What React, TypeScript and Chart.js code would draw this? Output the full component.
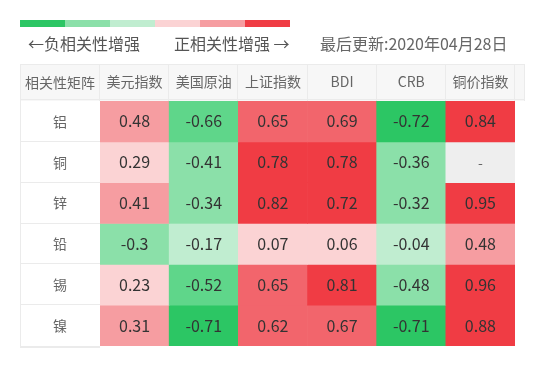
import React, { useEffect, useRef } from "react";
import { Chart, registerables } from "chart.js";

Chart.register(...registerables);

const rows = ["铝", "铜", "锌", "铅", "锡", "镍"];
const columns = ["美元指数", "美国原油", "上证指数", "BDI", "CRB", "铜价指数"];
const cornerLabel = "相关性矩阵";

const rowAl = [0.48, -0.66, 0.65, 0.69, -0.72, 0.84];
const rowCu = [0.29, -0.41, 0.78, 0.78, -0.36, null];
const rowZn = [0.41, -0.34, 0.82, 0.72, -0.32, 0.95];
const rowPb = [-0.3, -0.17, 0.07, 0.06, -0.04, 0.48];
const rowSn = [0.23, -0.52, 0.65, 0.81, -0.48, 0.96];
const rowNi = [0.31, -0.71, 0.62, 0.67, -0.71, 0.88];
const values: (number | null)[][] = [rowAl, rowCu, rowZn, rowPb, rowSn, rowNi];

const legendColors = ["#2cc664", "#8be0a9", "#c0edd0", "#fbd3d4", "#f69da1", "#f03c44"];
const negText = "←负相关性增强";
const posText = "正相关性增强 →";
const updateText = "最后更新:2020年04月28日";

const FONT = '"Noto Sans CJK SC", "Noto Sans", sans-serif';

function colorFor(v: number | null): string {
  if (v === null || v === undefined) return "#eeeeee";
  if (v >= 0.7) return "#f03c44";
  if (v >= 0.6) return "#f2656c";
  if (v >= 0.3) return "#f69da1";
  if (v >= 0) return "#fbd3d4";
  if (v > -0.3) return "#c0edd0";
  if (v > -0.5) return "#8be0a9";
  if (v > -0.7) return "#5fd68a";
  return "#2cc664";
}

const tablePlugin = {
  id: "tableDecor",
  beforeDraw(chart: any) {
    const { ctx, chartArea } = chart;
    const x = chart.scales.x;
    const y = chart.scales.y;
    const left = y.left;
    const top = x.top;
    const colW = (chartArea.right - chartArea.left) / columns.length;
    ctx.save();
    // header background
    ctx.fillStyle = "#f7f7f7";
    ctx.fillRect(left, top, chartArea.right + 10 - left, chartArea.top - top);
    // first column background
    ctx.fillStyle = "#ffffff";
    ctx.fillRect(left, chartArea.top, chartArea.left - left, chartArea.bottom - chartArea.top);
    ctx.strokeStyle = "#ebebeb";
    ctx.lineWidth = 1;
    ctx.beginPath();
    ctx.moveTo(left, top + 0.5);
    ctx.lineTo(chartArea.right + 10, top + 0.5);
    ctx.moveTo(left, chartArea.top - 1.5);
    ctx.lineTo(chartArea.right + 10, chartArea.top - 1.5);
    ctx.moveTo(left + 0.5, top);
    ctx.lineTo(left + 0.5, chartArea.bottom + 2);
    for (let j = 0; j <= columns.length; j++) {
      const px = Math.round(chartArea.left + j * colW) - 0.5;
      ctx.moveTo(px, top);
      ctx.lineTo(px, chartArea.top);
    }
    ctx.moveTo(chartArea.right + 9.5, top);
    ctx.lineTo(chartArea.right + 9.5, chartArea.top);
    for (let i = 1; i < rows.length; i++) {
      const py = Math.round(y.getPixelForValue(i)) - 0.5;
      ctx.moveTo(left, py);
      ctx.lineTo(chartArea.left, py);
    }
    ctx.stroke();
    ctx.fillStyle = "#ebebeb";
    ctx.fillRect(left, chartArea.bottom, chartArea.left - left, 2);
    // corner label
    ctx.fillStyle = "#666666";
    ctx.font = `14px ${FONT}`;
    ctx.textAlign = "center";
    ctx.textBaseline = "middle";
    ctx.fillText(cornerLabel, (left + chartArea.left) / 2, (top + chartArea.top) / 2);

    // legend strip
    const segW = 45;
    legendColors.forEach((c, k) => {
      ctx.fillStyle = c;
      ctx.fillRect(20 + k * segW, 20, segW, 7);
    });
    ctx.fillStyle = "#555555";
    ctx.font = `16px ${FONT}`;
    ctx.textAlign = "left";
    ctx.textBaseline = "middle";
    ctx.fillText(negText, 28, 44);
    ctx.fillText(posText, 174, 44);
    ctx.fillStyle = "#666666";
    ctx.fillText(updateText, 320, 44);
    ctx.restore();
  },
  afterDatasetsDraw(chart: any) {
    const { ctx } = chart;
    ctx.save();
    ctx.textAlign = "center";
    ctx.textBaseline = "middle";
    chart.data.datasets.forEach((ds: any, i: number) => {
      const meta = chart.getDatasetMeta(i);
      meta.data.forEach((el: any, j: number) => {
        const v = ds.data[j].v;
        const c = el.getCenterPoint();
        if (v === null) {
          ctx.fillStyle = "#666666";
          ctx.font = `14px ${FONT}`;
          ctx.fillText("-", c.x, c.y);
        } else {
          ctx.fillStyle = "#333333";
          ctx.font = `16px ${FONT}`;
          ctx.fillText(String(v), c.x, c.y);
        }
      });
    });
    ctx.restore();
  },
};

export default function App() {
  const ref = useRef<HTMLCanvasElement | null>(null);
  useEffect(() => {
    if (!ref.current) return;
    const chart = new Chart(ref.current, {
      type: "bar",
      data: {
        labels: columns,
        datasets: rows.map((r, i) => ({
          label: r,
          data: columns.map((c, j) => ({ x: c, y: [i, i + 1], v: values[i][j] })) as any,
          backgroundColor: (ctx: any) => colorFor(ctx.raw ? ctx.raw.v : null),
          borderWidth: 0,
          grouped: false,
          categoryPercentage: 1,
          barPercentage: 1,
        })),
      },
      options: {
        responsive: false,
        animation: false,
        layout: { padding: { left: 20, top: 64, right: 21, bottom: 30 } },
        plugins: { legend: { display: false }, tooltip: { enabled: false } },
        scales: {
          x: {
            type: "category",
            position: "top",
            grid: { display: false },
            border: { display: false },
            ticks: { color: "#666666", font: { family: FONT, size: 14 }, padding: 3, maxRotation: 0, autoSkip: false },
            afterFit: (s: any) => { s.height = 37; },
          },
          y: {
            type: "linear",
            reverse: true,
            min: 0,
            max: rows.length,
            grid: { display: false },
            border: { display: false },
            afterBuildTicks: (s: any) => { s.ticks = rows.map((_, i) => ({ value: i + 0.5 })); },
            ticks: {
              color: "#666666",
              font: { family: FONT, size: 14 },
              callback: (_v: any, idx: number) => rows[idx],
              padding: 25,
            },
            afterFit: (s: any) => { s.width = 80; s.paddingTop = 0; s.paddingBottom = 0; },
          },
        },
      } as any,
      plugins: [tablePlugin],
    });
    return () => chart.destroy();
  }, []);
  return (
    <div style={{ position: "absolute", left: 0, top: 0, width: 536, height: 376, background: "#fff" }}>
      <canvas ref={ref} width={536} height={376} style={{ display: "block" }} />
    </div>
  );
}
